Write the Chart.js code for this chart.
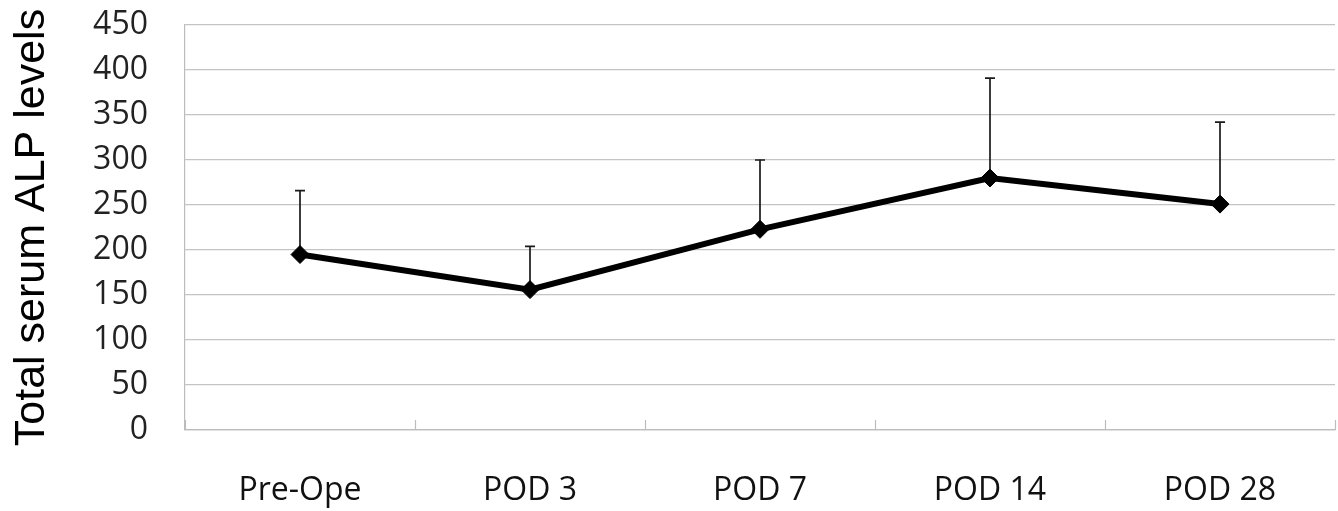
<!DOCTYPE html>
<html>
<head>
<meta charset="utf-8">
<script src="https://cdn.jsdelivr.net/npm/chart.js@4"></script>
<style>
  html, body { margin: 0; padding: 0; background: #fff; }
  #wrap { width: 1338px; height: 511px; position: relative; }
</style>
</head>
<body>
<div id="wrap"><canvas id="c" width="1338" height="511"></canvas></div>
<script>
const categories = ['Pre-Ope', 'POD 3', 'POD 7', 'POD 14', 'POD 28'];
const meanValues = [195, 156, 223, 280, 251];
const sdValues = [71, 48, 77, 111, 91];
const yTicks = [0, 50, 100, 150, 200, 250, 300, 350, 400, 450];
const yTitle = 'Total serum ALP levels';

const errorBarPlugin = {
  id: 'errorBars',
  beforeDatasetsDraw(chart) {
    const ctx = chart.ctx;
    const xs = chart.scales.x, ys = chart.scales.y;
    ctx.save();
    ctx.strokeStyle = '#1a1a1a';
    ctx.lineWidth = 1.7;
    meanValues.forEach((v, i) => {
      const x = xs.getPixelForValue(i);
      const y0 = ys.getPixelForValue(v);
      const y1 = ys.getPixelForValue(v + sdValues[i]);
      ctx.beginPath();
      ctx.moveTo(x, y0);
      ctx.lineTo(x, y1);
      ctx.moveTo(x - 5, y1);
      ctx.lineTo(x + 5, y1);
      ctx.stroke();
    });
    ctx.restore();
  }
};

const innerTicksPlugin = {
  id: 'innerTicks',
  afterDraw(chart) {
    const ctx = chart.ctx;
    const xs = chart.scales.x;
    const area = chart.chartArea;
    const step = xs.getPixelForValue(1) - xs.getPixelForValue(0);
    ctx.save();
    ctx.strokeStyle = '#bcbcbc';
    ctx.lineWidth = 1.2;
    for (let i = 0; i <= categories.length; i++) {
      const x = Math.round(xs.getPixelForValue(i) - step / 2) + 0.5;
      ctx.beginPath();
      ctx.moveTo(x, area.bottom);
      ctx.lineTo(x, area.bottom - 10);
      ctx.stroke();
    }
    ctx.restore();
  }
};

new Chart(document.getElementById('c'), {
  type: 'line',
  data: {
    labels: categories,
    datasets: [{
      data: meanValues,
      borderColor: '#000',
      backgroundColor: '#000',
      borderWidth: 6,
      tension: 0,
      clip: false,
      pointStyle: 'rectRot',
      pointRadius: 9,
      pointBorderWidth: 1,
      pointBorderColor: '#000',
      pointBackgroundColor: '#000'
    }]
  },
  options: {
    responsive: false,
    animation: false,
    events: [],
    layout: { autoPadding: false, padding: { top: 25, right: 3, bottom: 0, left: 0 } },
    plugins: { legend: { display: false }, tooltip: { enabled: false } },
    scales: {
      x: {
        type: 'category',
        offset: true,
        grid: { display: false, drawTicks: false },
        border: { display: true, color: '#bcbcbc', width: 1.2 },
        ticks: {
          color: '#111',
          font: { family: 'Open Sans', size: 32 },
          padding: 42,
          maxRotation: 0
        },
        afterFit(s) { s.height = 81; s.paddingLeft = 0; s.paddingRight = 0; }
      },
      y: {
        min: 0,
        max: 450,
        afterBuildTicks(s) { s.ticks = yTicks.map(v => ({ value: v })); },
        grid: { color: '#c4c4c4', lineWidth: 1.2, drawTicks: false },
        border: { display: true, color: '#bcbcbc', width: 1.2 },
        ticks: {
          color: '#222',
          font: { family: 'Open Sans', size: 32 },
          padding: 37
        },
        title: {
          display: true,
          text: yTitle,
          color: '#000',
          font: { family: 'Liberation Sans', size: 43 },
          padding: { top: 6, bottom: 0 }
        },
        afterFit(s) { s.width = 185; s.paddingTop = 0; s.paddingBottom = 0; }
      }
    }
  },
  plugins: [errorBarPlugin, innerTicksPlugin]
});
</script>
</body>
</html>
